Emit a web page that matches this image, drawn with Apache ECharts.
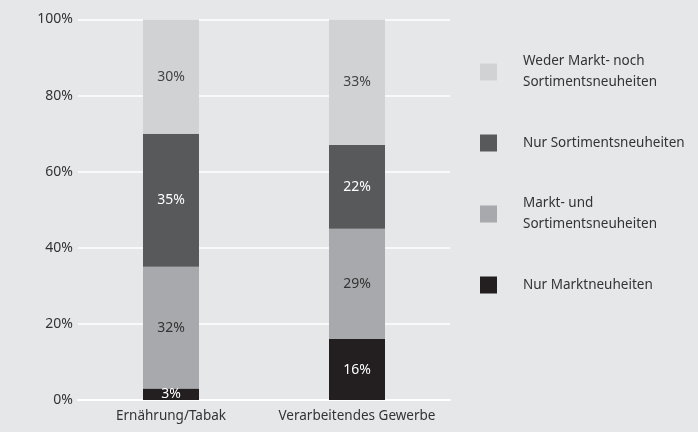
<!DOCTYPE html>
<html>
<head>
<meta charset="utf-8">
<script src="https://cdn.jsdelivr.net/npm/echarts@6/dist/echarts.min.js"></script>
<style>
html,body{margin:0;padding:0;background:#e6e7e8;}
#main{width:698px;height:432px;}
</style>
</head>
<body>
<div id="main"></div>
<script>
// Daten
var categories = ['Ernährung/Tabak', 'Verarbeitendes Gewerbe'];
var nurMarkt = [3, 16];
var marktUndSortiment = [32, 29];
var nurSortiment = [35, 22];
var weder = [30, 33];
var yTicks = [0, 20, 40, 60, 80, 100];

var legendNames = {
	'Weder Markt- noch Sortimentsneuheiten': 'Weder Markt- noch\nSortimentsneuheiten',
	'Nur Sortimentsneuheiten': 'Nur Sortimentsneuheiten',
	'Markt- und Sortimentsneuheiten': 'Markt- und\nSortimentsneuheiten',
	'Nur Marktneuheiten': 'Nur Marktneuheiten'
};

var font = 'Noto Sans';

function barSeries(name, data, color, textColor){
	return {
		name: name,
		type: 'bar',
		stack: 'total',
		barWidth: 56,
		data: data,
		itemStyle: { color: color },
		label: {
			show: true,
			position: 'inside',
			formatter: '{c}%',
			color: textColor,
			fontFamily: font,
			fontSize: 14
		}
	};
}

var myChart = echarts.init(document.getElementById('main'));
var option = {
	backgroundColor: '#e6e7e8',
	animation: false,
	grid: { left: 78, right: 248, top: 19.5, bottom: 32 },
	legend: {
		orient: 'vertical',
		left: 480,
		top: 51,
		padding: 0,
		itemWidth: 17,
		itemHeight: 17,
		itemGap: 39.5,
		icon: 'rect',
		selectedMode: false,
		data: ['Weder Markt- noch Sortimentsneuheiten', 'Nur Sortimentsneuheiten', 'Markt- und Sortimentsneuheiten', 'Nur Marktneuheiten'],
		formatter: function(n){ return legendNames[n]; },
		textStyle: {
			color: '#333',
			fontFamily: font,
			fontSize: 13.5,
			lineHeight: 21,
			padding: [0, 0, 0, 21]
		}
	},
	xAxis: {
		type: 'category',
		data: categories,
		axisLine: { show: true, lineStyle: { color: '#ffffff', width: 2 } },
		axisTick: { show: false },
		axisLabel: { interval: 0, color: '#333', fontFamily: font, fontSize: 13.5, margin: 9 }
	},
	yAxis: {
		type: 'value',
		min: yTicks[0],
		max: yTicks[yTicks.length - 1],
		interval: 20,
		axisLine: { show: false },
		axisTick: { show: false },
		axisLabel: { formatter: '{value}%', color: '#333', fontFamily: font, fontSize: 14, margin: 5 },
		splitLine: { lineStyle: { color: '#ffffff', width: 1.5 } }
	},
	series: [
		barSeries('Nur Marktneuheiten', nurMarkt, '#231f20', '#ffffff'),
		barSeries('Markt- und Sortimentsneuheiten', marktUndSortiment, '#a7a9ac', '#333'),
		barSeries('Nur Sortimentsneuheiten', nurSortiment, '#58595b', '#ffffff'),
		barSeries('Weder Markt- noch Sortimentsneuheiten', weder, '#d1d2d4', '#444')
	]
};
myChart.setOption(option);
</script>
</body>
</html>
